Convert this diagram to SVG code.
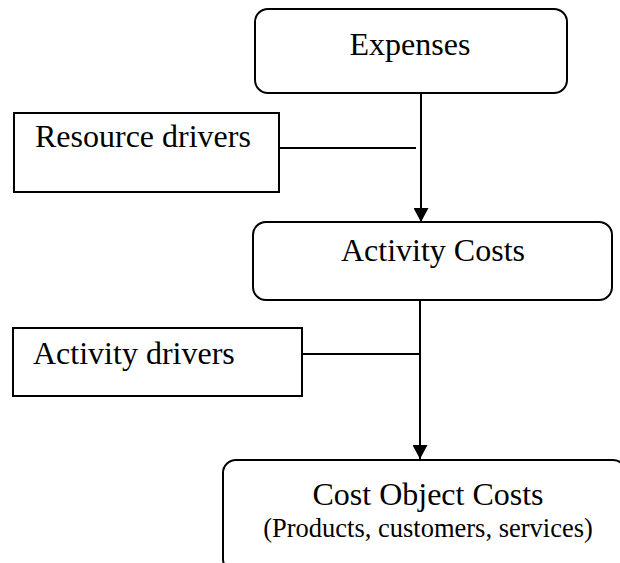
<svg xmlns="http://www.w3.org/2000/svg" width="620" height="563" viewBox="0 0 620 563">
<style>
.box{fill:#fff;stroke:#000;stroke-width:2}
.ln{stroke:#000;stroke-width:2;fill:none}
.t{font-family:"Liberation Serif","Times New Roman",serif;font-size:32px;fill:#000}
.s{font-family:"Liberation Serif","Times New Roman",serif;font-size:26.5px;fill:#000}
</style>
<defs>
<marker id="ah" viewBox="0 0 14 15" refX="14" refY="7.5" markerWidth="14" markerHeight="15" markerUnits="userSpaceOnUse" orient="auto">
<path d="M0,0 L14,7.5 L0,15 Z" fill="#000"/>
</marker>
</defs>
<rect width="620" height="563" fill="#fff"/>
<g id="expenses">
<rect class="box" x="255" y="9" width="312" height="84" rx="13" ry="13"/>
<text class="t" x="410" y="55" text-anchor="middle">Expenses</text>
</g>
<g id="resource-drivers">
<rect class="box" x="14" y="113" width="265" height="79"/>
<text class="t" x="35" y="147">Resource drivers</text>
</g>
<g id="activity-costs">
<rect class="box" x="253" y="222" width="359" height="78" rx="13" ry="13"/>
<text class="t" x="433" y="261" text-anchor="middle">Activity Costs</text>
</g>
<g id="activity-drivers">
<rect class="box" x="13" y="328" width="289" height="68"/>
<text class="t" x="33" y="364">Activity drivers</text>
</g>
<g id="cost-object-costs">
<rect class="box" x="223" y="460" width="403" height="112" rx="13" ry="13"/>
<text class="t" x="428" y="505" text-anchor="middle">Cost Object Costs</text>
<text class="s" x="428" y="537" text-anchor="middle">(Products, customers, services)</text>
</g>
<g id="connectors">
<line class="ln" x1="421" y1="93" x2="421" y2="222" marker-end="url(#ah)"/>
<line class="ln" x1="279" y1="148" x2="416" y2="148"/>
<line class="ln" x1="420" y1="300" x2="420" y2="459" marker-end="url(#ah)"/>
<line class="ln" x1="302" y1="354" x2="421" y2="354"/>
</g>
</svg>
